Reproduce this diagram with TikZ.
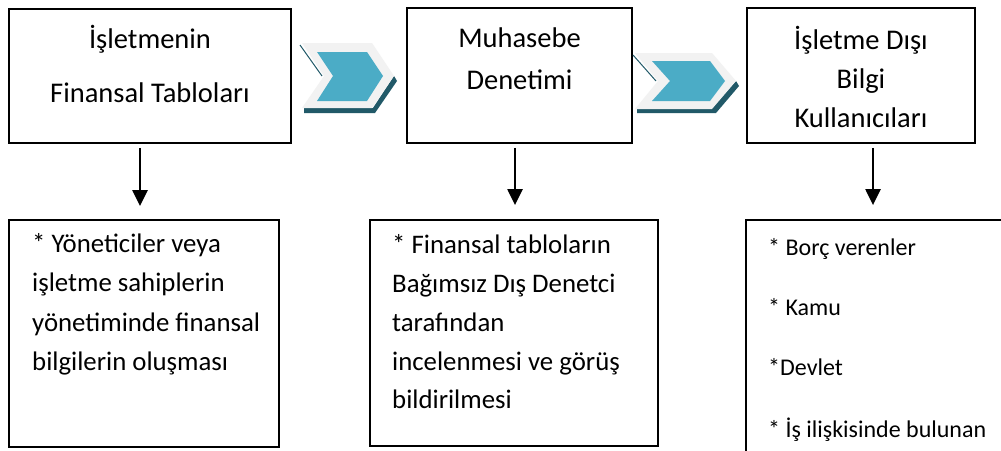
\documentclass[tikz,border=0pt]{standalone}
\usepackage{fontspec}
\setmainfont{Carlito}
\usetikzlibrary{arrows.meta}
\definecolor{chevblue}{HTML}{4BACC6}
\definecolor{chevdark}{HTML}{215968}
\definecolor{chevgray}{HTML}{F2F2F2}
\begin{document}
\begin{tikzpicture}[x=1pt,y=-1pt,
  box/.style={draw=black, line width=1.8pt, rectangle, inner sep=0pt},
  ttl/.style={anchor=base, inner sep=0pt, font=\fontsize{28.5}{34}\selectfont},
  txt/.style={anchor=base west, inner sep=0pt, font=\fontsize{26.8}{33}\selectfont},
  txts/.style={anchor=base west, inner sep=0pt, font=\fontsize{24}{29}\selectfont},
  arr/.style={line width=2.3pt, -{Triangle[width=15pt,length=16pt]}},
]
\path[use as bounding box, clip] (0,0) rectangle (1001,450);
\fill[white] (0,0) rectangle (1001,450);

% boxes
\node[box, minimum width=282pt, minimum height=134pt] (b1) at (150,76) {};
\node[box, minimum width=225pt, minimum height=135pt] (b2) at (519.5,75.5) {};
\node[box, minimum width=228pt, minimum height=135pt] (b3) at (861,75.5) {};
\node[box, minimum width=270pt, minimum height=227pt] (b4) at (144,333.5) {};
\node[box, minimum width=288pt, minimum height=226pt] (b5) at (514,333) {};
\node[box, minimum width=269pt, minimum height=250pt] (b6) at (880.5,345) {};

% titles
\node[ttl] (t1a) at (150,48) {İşletmenin};
\node[ttl] (t1b) at (150,102) {Finansal Tabloları};
\node[ttl] (t2a) at (519.5,47) {Muhasebe};
\node[ttl] (t2b) at (519.5,89) {Denetimi};
\node[ttl] (t3a) at (861,49) {İşletme Dışı};
\node[ttl] (t3b) at (861,88) {Bilgi};
\node[ttl] (t3c) at (861,127) {Kullanıcıları};

% body texts
\node[txt] (l1a) at (32,252) {* Yöneticiler veya};
\node[txt] (l1b) at (32,291.5) {işletme sahiplerin};
\node[txt] (l1c) at (32,331) {yönetiminde finansal};
\node[txt] (l1d) at (32,370.5) {bilgilerin oluşması};

\node[txt] (l2a) at (392,253) {* Finansal tabloların};
\node[txt] (l2b) at (392,292.5) {Bağımsız Dış Denetci};
\node[txt] (l2c) at (392,331.5) {tarafından};
\node[txt] (l2d) at (392,370) {incelenmesi ve görüş};
\node[txt] (l2e) at (392,408.5) {bildirilmesi};

\node[txts] (l3a) at (768,255) {* Borç verenler};
\node[txts] (l3b) at (768,315) {* Kamu};
\node[txts] (l3c) at (768,375) {*Devlet};
\node[txts] (l3d) at (768,437) {* İş ilişkisinde bulunan};

% vertical arrows
\draw[arr] ([xshift=-10pt,yshift=-4pt]b1.south) -- ([xshift=-4pt,yshift=13pt]b4.north);
\draw[arr] ([xshift=-4.5pt,yshift=-4pt]b2.south) -- ([xshift=1pt,yshift=14pt]b5.north);
\draw[arr] ([xshift=12pt,yshift=-4pt]b3.south) -- ([xshift=-7.5pt,yshift=14pt]b6.north);

% chevron 1
\fill[chevdark] (304,108) -- (373,108) -- (394,76) -- (397,81) -- (375,113) -- (304,113) -- cycle;
\draw[chevdark, line width=1pt] (300,45) -- (322,76);
\fill[chevgray] (302,43) -- (372,43) -- (394,76) -- (372,108) -- (302,108) -- (324,76) -- cycle;
\fill[chevblue] (317,52) -- (367,52) -- (383,76) -- (367,101) -- (317,101) -- (333,76) -- cycle;

% chevron 2
\fill[chevdark] (637,108) -- (712,108) -- (736,81) -- (739,86) -- (716,113) -- (637,113) -- cycle;
\draw[chevdark, line width=1pt] (633,55) -- (656,81);
\fill[chevgray] (635,53) -- (712,53) -- (736,81) -- (712,109) -- (635,109) -- (658,81) -- cycle;
\fill[chevblue] (652,61) -- (710,61) -- (725,81) -- (710,101) -- (652,101) -- (670,81) -- cycle;
\end{tikzpicture}
\end{document}
